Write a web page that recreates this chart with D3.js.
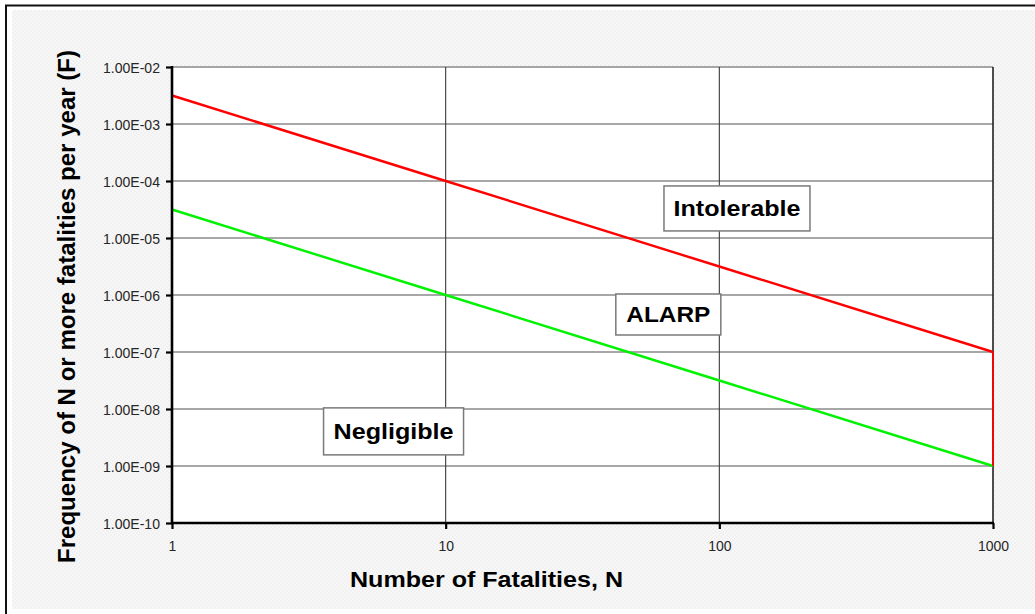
<!DOCTYPE html>
<html>
<head>
<meta charset="utf-8">
<script src="https://cdn.jsdelivr.net/npm/d3@7"></script>
<style>
  html, body { margin: 0; padding: 0; background: #ffffff; }
  svg { display: block; }
  text { font-family: "Liberation Sans", Arial, Helvetica, sans-serif; }
</style>
</head>
<body>
<script>
// F-N criterion lines: frequency of N or more fatalities per year
const fatalities = [1, 10, 100, 1000];
const intolerableLimit = [3.16e-3, 1e-4, 3.16e-6, 1e-7];
const negligibleLimit = [3.16e-5, 1e-6, 3.16e-8, 1e-9];

const xTickValues = [1, 10, 100, 1000];
const xTickLabels = ["1", "10", "100", "1000"];
const yTickValues = [1e-2, 1e-3, 1e-4, 1e-5, 1e-6, 1e-7, 1e-8, 1e-9, 1e-10];
const yTickLabels = ["1.00E-02", "1.00E-03", "1.00E-04", "1.00E-05", "1.00E-06",
                     "1.00E-07", "1.00E-08", "1.00E-09", "1.00E-10"];

const regionNames = ["Intolerable", "ALARP", "Negligible"];
const regionN = [116, 65.1, 6.45];
const regionF = [3.3e-5, 4.55e-7, 4.05e-9];

const W = 1035, H = 614;
const plot = { left: 172, right: 993, top: 67, bottom: 523 };

const svg = d3.select("body").append("svg")
  .attr("width", W).attr("height", H);

// Dotted light background panel
const defs = svg.append("defs");
const pat = defs.append("pattern").attr("id", "bgDots")
  .attr("width", 4).attr("height", 4).attr("patternUnits", "userSpaceOnUse");
pat.append("rect").attr("width", 4).attr("height", 4).attr("fill", "#f7f7f7");
pat.append("rect").attr("x", 0).attr("y", 0).attr("width", 2).attr("height", 2).attr("fill", "#f1f1f1");
pat.append("rect").attr("x", 2).attr("y", 2).attr("width", 2).attr("height", 2).attr("fill", "#f1f1f1");

svg.append("rect").attr("x", 12).attr("y", 10).attr("width", W - 12).attr("height", 599)
  .attr("fill", "url(#bgDots)");

// Outer frame (top and left edges)
svg.append("line").attr("x1", 5).attr("x2", W).attr("y1", 5.5).attr("y2", 5.5)
  .attr("stroke", "#111").attr("stroke-width", 2);
svg.append("line").attr("x1", 6).attr("x2", 6).attr("y1", 5).attr("y2", H)
  .attr("stroke", "#111").attr("stroke-width", 2);

const x = d3.scaleLog().domain([1, 1000]).range([plot.left, plot.right]);
const y = d3.scaleLog().domain([1e-10, 1e-2]).range([plot.bottom, plot.top]);

// Plot area
svg.append("rect")
  .attr("x", plot.left).attr("y", plot.top)
  .attr("width", plot.right - plot.left).attr("height", plot.bottom - plot.top)
  .attr("fill", "#ffffff");

// Horizontal gridlines
svg.append("g").selectAll("line").data(yTickValues.slice(0, -1)).join("line")
  .attr("x1", plot.left).attr("x2", plot.right)
  .attr("y1", d => y(d)).attr("y2", d => y(d))
  .attr("stroke", "#8a8a8a").attr("stroke-width", 1.3);

// Vertical gridlines
svg.append("g").selectAll("line").data(xTickValues.slice(1)).join("line")
  .attr("x1", d => x(d)).attr("x2", d => x(d))
  .attr("y1", plot.top).attr("y2", plot.bottom)
  .attr("stroke", d => d === 1000 ? "#222" : "#3a3a3a")
  .attr("stroke-width", d => d === 1000 ? 1.6 : 1.1);

// Criterion lines
const line = d3.line().x((d, i) => x(fatalities[i])).y(d => y(d));

svg.append("path").datum(negligibleLimit)
  .attr("d", line).attr("fill", "none")
  .attr("stroke", "#00f200").attr("stroke-width", 2.4);

svg.append("path").datum(intolerableLimit)
  .attr("d", line).attr("fill", "none")
  .attr("stroke", "#ff0000").attr("stroke-width", 2.4);

// Closing segment at N = 1000 between the two limits
const nMax = fatalities[fatalities.length - 1];
svg.append("line")
  .attr("x1", x(nMax)).attr("x2", x(nMax))
  .attr("y1", y(intolerableLimit[intolerableLimit.length - 1]))
  .attr("y2", y(negligibleLimit[negligibleLimit.length - 1]))
  .attr("stroke", "#ff0000").attr("stroke-width", 1.8);

// Axes
const yAxis = d3.axisLeft(y).tickValues(yTickValues)
  .tickFormat((d, i) => yTickLabels[i]).tickSize(6).tickPadding(6);
const xAxis = d3.axisBottom(x).tickValues(xTickValues)
  .tickFormat((d, i) => xTickLabels[i]).tickSize(6).tickPadding(12);

const gy = svg.append("g").attr("transform", `translate(${plot.left},0)`).call(yAxis);
const gx = svg.append("g").attr("transform", `translate(0,${plot.bottom})`).call(xAxis);

[gx, gy].forEach(g => {
  g.select(".domain").attr("stroke", "#000").attr("stroke-width", 2.6);
  g.selectAll(".tick line").attr("stroke", "#000").attr("stroke-width", 2.2);
  g.selectAll(".tick text").attr("fill", "#262626")
    .style("font-family", "'Liberation Sans', Arial, sans-serif").style("font-size", "14px");
});
gy.select(".domain").attr("d", `M0,${plot.top - 1}V${plot.bottom + 1}`);
gx.select(".domain").attr("d", `M${plot.left - 1},0H${plot.right + 1}`);
gy.selectAll(".tick text").attr("textLength", 57).attr("lengthAdjust", "spacingAndGlyphs")
  .attr("dy", "0.36em");

// Region labels in boxed callouts
const boxSizes = [[146, 45], [105, 41], [140, 47]];
const textWidths = [127, 84, 120];
const labels = svg.append("g").selectAll("g").data(regionNames).join("g")
  .attr("transform", (d, i) => `translate(${x(regionN[i])},${y(regionF[i])})`);
labels.append("rect")
  .attr("x", (d, i) => -boxSizes[i][0] / 2).attr("y", (d, i) => -boxSizes[i][1] / 2)
  .attr("width", (d, i) => boxSizes[i][0]).attr("height", (d, i) => boxSizes[i][1])
  .attr("fill", "#ffffff").attr("stroke", "#7a7a7a").attr("stroke-width", 1.5);
labels.append("text")
  .attr("text-anchor", "middle").attr("y", 8)
  .attr("font-size", 22).attr("font-weight", "bold").attr("fill", "#000")
  .attr("textLength", (d, i) => textWidths[i]).attr("lengthAdjust", "spacingAndGlyphs")
  .text(d => d);

// Axis titles
svg.append("text")
  .attr("x", 486.5).attr("y", 587)
  .attr("text-anchor", "middle").attr("font-size", 22).attr("font-weight", "bold")
  .attr("textLength", 273).attr("lengthAdjust", "spacingAndGlyphs")
  .text("Number of Fatalities, N");

svg.append("text")
  .attr("transform", "translate(75,306.5) rotate(-90)")
  .attr("text-anchor", "middle").attr("font-size", 23).attr("font-weight", "bold")
  .attr("textLength", 513).attr("lengthAdjust", "spacingAndGlyphs")
  .text("Frequency of N or more fatalities per year (F)");
</script>
</body>
</html>
